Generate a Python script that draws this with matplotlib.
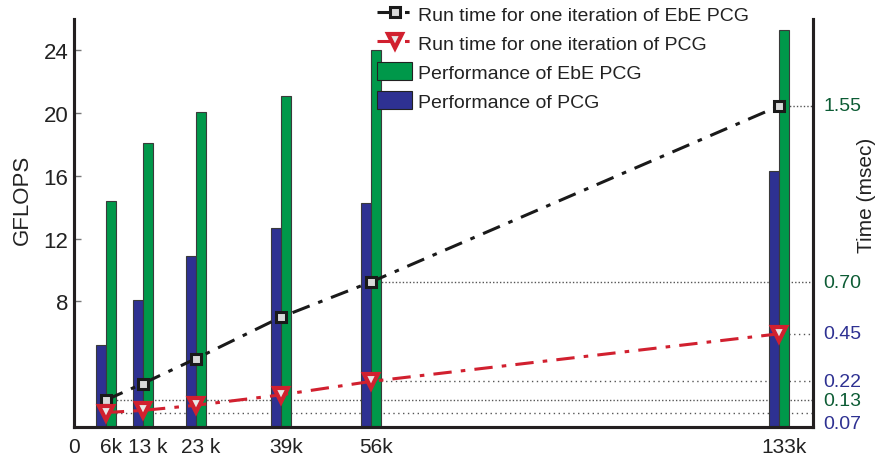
import matplotlib
matplotlib.use("Agg")
import matplotlib.pyplot as plt
from matplotlib.transforms import ScaledTranslation
from matplotlib.patches import Patch

# ---------------- data ----------------
sizes = [6, 13, 23, 39, 56, 133]                 # problem size (k)
size_labels = ["6k", "13 k", "23 k", "39k", "56k", "133k"]
gflops_pcg = [5.2, 8.1, 10.9, 12.7, 14.3, 16.3]
gflops_ebe = [14.4, 18.1, 20.1, 21.1, 24.0, 25.3]
time_ebe = [0.13, 0.21, 0.33, 0.53, 0.70, 1.55]  # msec
time_pcg = [0.07, 0.08, 0.105, 0.155, 0.22, 0.45]
left_ticks = [8, 12, 16, 20, 24]
ebe_marked = [0.13, 0.70, 1.55]
pcg_marked = [0.07, 0.22, 0.45]

# ---------------- style ----------------
plt.rcParams['font.family'] = ['Liberation Sans', 'DejaVu Sans']
FAM = ['Liberation Sans', 'DejaVu Sans']
BLUE = '#2e3192'
GREEN = '#00984a'
RED = '#d1202f'
DKGREEN = '#0d5c35'
SPINE = '#231f20'

fig = plt.figure(figsize=(8.76, 4.6), dpi=100)
ax = fig.add_axes([74/876, 1-428/460, (813-74)/876, (428-20)/460])
ax2 = ax.twinx()

ax.set_xlim(0, 139.4)
ax.set_ylim(0, 26)
ax2.set_ylim(0, 1.97)

w = 1.9
ax.bar([s - w/2 for s in sizes], gflops_pcg, width=w, color=BLUE,
       edgecolor='#3a3a3a', linewidth=0.8, zorder=2)
ax.bar([s + w/2 for s in sizes], gflops_ebe, width=w, color=GREEN,
       edgecolor='#3a3a3a', linewidth=0.8, zorder=2)

# dotted guide lines (time coordinates, drawn behind the bars)
xr = ax.get_xlim()[1]
for tv in ebe_marked:
    i = time_ebe.index(tv)
    ax.plot([sizes[i], xr], [tv, tv], transform=ax2.transData, ls=(0, (1, 1.5)),
            color='#555555', lw=1.0, zorder=1)
for tv in pcg_marked:
    i = time_pcg.index(tv)
    ax.plot([sizes[i], xr], [tv, tv], transform=ax2.transData, ls=(0, (1, 2.5)),
            color='#555555', lw=1.0, zorder=1)

# time lines
l1, = ax2.plot(sizes, time_ebe, ls=(0, (6, 3, 1.5, 3)), color='#1a1a1a', lw=2.2,
               marker='s', ms=7, mfc='#d9d9d9', mec='#1a1a1a', mew=2.2, zorder=3)
l2, = ax2.plot(sizes, time_pcg, ls=(0, (6, 3, 1.5, 3)), color=RED, lw=2.2,
               marker='v', ms=10, mfc='#e8e8e8', mec=RED, mew=3.0, zorder=3)

# right-hand value labels
for tv in ebe_marked:
    ax2.text(1.014, tv, f"{tv:.2f}", transform=ax2.get_yaxis_transform(),
             color=DKGREEN, fontsize=14, va='center', ha='left', family=FAM)
for tv in pcg_marked:
    yy = tv if tv > 0.1 else 0.015
    ax2.text(1.014, yy, f"{tv:.2f}", transform=ax2.get_yaxis_transform(),
             color=BLUE, fontsize=14, va='center', ha='left', family=FAM)

# axes styling
for a in (ax, ax2):
    a.spines['top'].set_visible(False)
    for s in ('left', 'right', 'bottom'):
        a.spines[s].set_linewidth(2.2)
        a.spines[s].set_color(SPINE)
ax2.set_yticks([])

ax.set_yticks(left_ticks)
ax.set_yticklabels([str(t) for t in left_ticks])
ax.set_xticks([0] + sizes)
ax.set_xticklabels(["0"] + size_labels)
ax.tick_params(axis='both', direction='in', length=5, width=1, color='#777777',
               labelsize=16, colors='#222222')
ax.tick_params(axis='x', pad=7, labelsize=15)
ax.tick_params(axis='y', pad=4)
off = ScaledTranslation(5/100, 0, fig.dpi_scale_trans)
for lab in ax.get_xticklabels()[1:]:
    lab.set_transform(lab.get_transform() + off)

ax.set_ylabel("GFLOPS", fontsize=16, color='#222222')
ax.yaxis.set_label_coords(-0.055, 0.56)
ax2.set_ylabel("Time (msec)", fontsize=15, color='#222222', rotation=90)
ax2.yaxis.set_label_coords(1.06, 0.57)

handles = [l1, l2,
           Patch(facecolor=GREEN, edgecolor='#222222', lw=0.8),
           Patch(facecolor=BLUE, edgecolor='#222222', lw=0.8)]
labels = ["Run time for one iteration of EbE PCG",
          "Run time for one iteration of PCG",
          "Performance of EbE PCG",
          "Performance of PCG"]
leg = fig.legend(handles, labels, loc='upper left', bbox_to_anchor=(377/876, 0.988),
                 frameon=False, fontsize=14, numpoints=1, handlelength=1.8,
                 handleheight=1.05, handletextpad=0.3, labelspacing=0.47,
                 borderpad=0.0, borderaxespad=0.0)
for t in leg.get_texts():
    t.set_color('#222222')

fig.savefig("out.png", dpi=100)
